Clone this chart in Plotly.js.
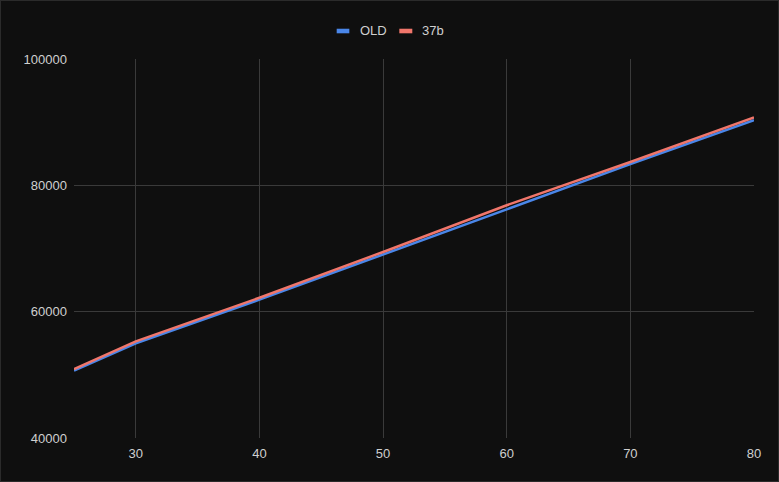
<!DOCTYPE html>
<html>
<head>
<meta charset="utf-8">
<script src="https://cdn.plot.ly/plotly-3.0.1.min.js"></script>
<style>
html,body{margin:0;padding:0;background:#0f0f0f;}
#wrap{position:relative;width:779px;height:482px;}
#chart{width:779px;height:482px;}
#frame{position:absolute;left:0;top:0;width:777px;height:480px;border:1px solid #2b2b2b;pointer-events:none;}
</style>
</head>
<body>
<div id="wrap"><div id="chart"></div><div id="frame"></div></div>
<script>
const ages = [25, 30, 40, 50, 60, 70, 80];
const oldValues = [50650, 55000, 61900, 69100, 76200, 83350, 90300];
const v37bValues = [50900, 55300, 62200, 69450, 76850, 83700, 90750];
const seriesNames = ['OLD', '37b'];
const seriesColors = ['#4a86e8', '#f0766b'];
const xTicks = [30, 40, 50, 60, 70, 80];
const yTicks = [40000, 60000, 80000, 100000];

const traces = [
  {x: ages, y: oldValues, name: seriesNames[0], type: 'scatter', mode: 'lines',
   line: {color: seriesColors[0], width: 2.5}},
  {x: ages, y: v37bValues, name: seriesNames[1], type: 'scatter', mode: 'lines',
   line: {color: seriesColors[1], width: 2.5}}
];

// custom legend (small bars + labels) positioned in paper coordinates
const legendPos = [
  {bx0: 0.3863, bx1: 0.4049, tx: 0.4176},
  {bx0: 0.4784, bx1: 0.4975, tx: 0.5088}
];
const shapes = legendPos.map((p, i) => ({
  type: 'rect', xref: 'paper', yref: 'paper',
  x0: p.bx0, x1: p.bx1, y0: 1.0678, y1: 1.0799,
  fillcolor: seriesColors[i], line: {width: 0}
}));
const annotations = legendPos.map((p, i) => ({
  xref: 'paper', yref: 'paper', x: p.tx, y: 1.0747,
  xanchor: 'left', yanchor: 'middle', showarrow: false,
  text: seriesNames[i], font: {size: 13, color: '#d0d0d0'}
}));

const layout = {
  width: 779, height: 482,
  paper_bgcolor: '#0f0f0f', plot_bgcolor: '#0f0f0f',
  margin: {l: 74, r: 25, t: 59, b: 44, autoexpand: false},
  font: {family: 'Liberation Sans, Arial, sans-serif', size: 13, color: '#d0d0d0'},
  showlegend: false,
  shapes: shapes,
  annotations: annotations,
  xaxis: {range: [25, 80], tickvals: xTicks, ticktext: xTicks.map(String),
          showgrid: true, gridcolor: '#3a3a3a', gridwidth: 1, zeroline: false,
          showline: false, ticks: '', ticklabelstandoff: 6, fixedrange: true},
  yaxis: {range: [40000, 100000], tickvals: yTicks, ticktext: yTicks.map(String),
          showgrid: true, gridcolor: '#3a3a3a', gridwidth: 1, zeroline: false,
          showline: false, ticks: '', ticklabelstandoff: 6, fixedrange: true}
};

Plotly.newPlot('chart', traces, layout, {displayModeBar: false, staticPlot: true});
</script>
</body>
</html>
